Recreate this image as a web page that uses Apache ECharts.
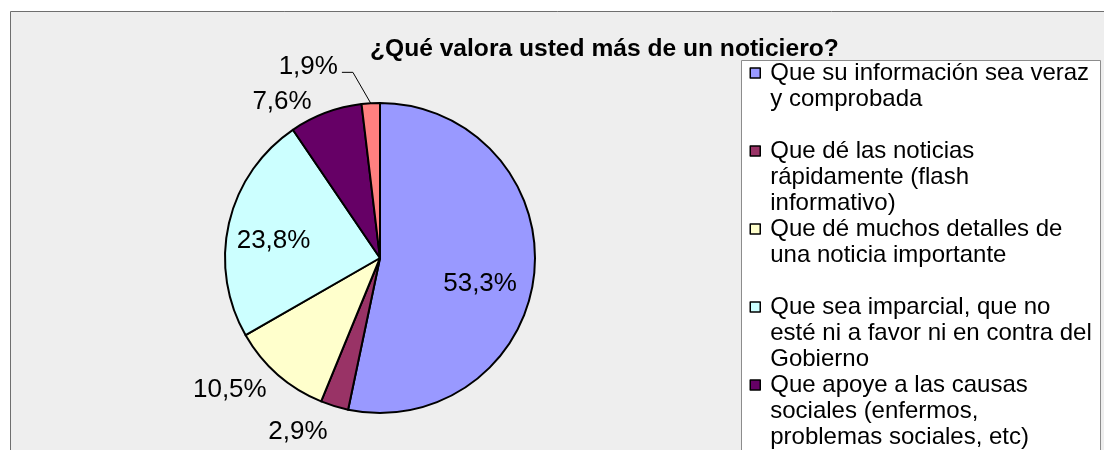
<!DOCTYPE html>
<html>
<head>
<meta charset="utf-8">
<script src="https://cdn.jsdelivr.net/npm/echarts@6/dist/echarts.min.js"></script>
<style>
  html, body { margin: 0; padding: 0; background: #fff; }
  #grafico { width: 1104px; height: 450px; }
</style>
</head>
<body>
<div id="grafico"></div>
<script>
// datos
var titulo = '¿Qué valora usted más de un noticiero?';
var categorias = [
  'Que su información sea veraz\ny comprobada',
  'Que dé las noticias\nrápidamente (flash\ninformativo)',
  'Que dé muchos detalles de\nuna noticia importante',
  'Que sea imparcial, que no\nesté ni a favor ni en contra del\nGobierno',
  'Que apoye a las causas\nsociales (enfermos,\nproblemas sociales, etc)',
  'Otro'
];
var porcentajes = [53.3, 2.9, 10.5, 23.8, 7.6, 1.9];
var colores = ['#9999ff', '#993366', '#ffffcc', '#ccffff', '#660066', '#ff8080'];

// donde va cada etiqueta y pequeño ajuste (dx, dy)
var posEtiqueta = ['inside', 'outside', 'outside', 'inside', 'outside', 'outside'];
var ajusteEtiqueta = [[20, 17], [4, 7], [7, 0], [-28, 1], [-2, 8], [-14, -6]];
// la línea guía del 1,9% va inclinada hacia la izquierda
var desvioLinea = [-16, -15];

var fuente = "'Liberation Sans', Arial, sans-serif";

var chart = echarts.init(document.getElementById('grafico'));

var datos = categorias.map(function (nombre, i) {
  var d = {
    name: nombre,
    value: porcentajes[i],
    itemStyle: { color: colores[i] },
    label: { position: posEtiqueta[i] }
  };
  if (i === 5) {
    // la única etiqueta con línea guía
    d.labelLine = { show: true, length: 31, length2: 12, lineStyle: { color: '#000', width: 1 } };
  }
  return d;
});

// la leyenda de Excel alinea el cuadrito con la primera línea
// y reparte las entradas a igual distancia: se rellena cada texto
// hasta 5 líneas con la primera en el centro
function textoLeyenda(nombre) {
  var n = nombre.split('\n').length;
  var abajo = '';
  for (var k = n; k < 3; k++) abajo += '\n';
  return '\n\n' + nombre + abajo;
}

var option = {
  animation: false,
  title: {
    text: titulo,
    left: 370,
    top: 37,
    padding: 0,
    textStyle: { fontFamily: fuente, fontSize: 24.6, fontWeight: 'bold', color: '#000' }
  },
  graphic: [
    {
      type: 'rect', silent: true, z: -10,
      shape: { x: 10.5, y: 11.5, width: 1200, height: 600 },
      style: { fill: '#eeeeee', stroke: '#6e6e6e', lineWidth: 1 }
    },
    {
      type: 'rect', silent: true, z: -9,
      shape: { x: 741.5, y: 60.5, width: 359, height: 500 },
      style: { fill: '#ffffff', stroke: '#8c8c8c', lineWidth: 1 }
    }
  ],
  legend: {
    orient: 'vertical',
    left: 749.5,
    top: 8,
    height: 1000,
    padding: 0,
    itemGap: -52,
    itemWidth: 10,
    itemHeight: 10,
    icon: 'rect',
    itemStyle: { borderColor: '#000', borderWidth: 1.5 },
    formatter: textoLeyenda,
    textStyle: {
      fontFamily: fuente, fontSize: 24, color: '#000',
      lineHeight: 26, padding: [0, 0, 0, 5]
    },
    data: categorias
  },
  series: [{
    type: 'pie',
    center: [380, 258],
    radius: 155,
    startAngle: 90,
    clockwise: true,
    avoidLabelOverlap: false,
    itemStyle: { borderColor: '#000', borderWidth: 2 },
    emphasis: { disabled: true },
    label: {
      fontFamily: fuente, fontSize: 26, color: '#000',
      formatter: function (p) {
        return p.value.toFixed(1).replace('.', ',') + '%';
      }
    },
    labelLine: { show: false, length: 20, length2: 0 },
    labelLayout: function (p) {
      var a = ajusteEtiqueta[p.dataIndex];
      var res = { dx: a[0], dy: a[1] };
      var pts = p.labelLinePoints;
      if (p.dataIndex === 5 && pts && pts.length === 3) {
        res.labelLinePoints = [
          [pts[0][0], pts[0][1]],
          [pts[1][0] + desvioLinea[0], pts[1][1]],
          [pts[2][0] + desvioLinea[1], pts[2][1]]
        ];
      }
      return res;
    },
    data: datos
  }]
};

chart.setOption(option);
</script>
</body>
</html>
